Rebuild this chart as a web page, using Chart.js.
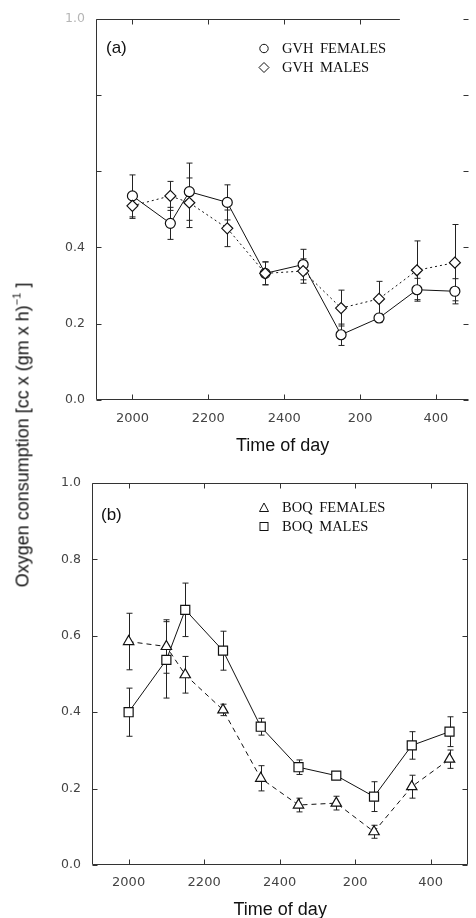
<!DOCTYPE html>
<html>
<head>
<meta charset="utf-8">
<script src="https://cdn.jsdelivr.net/npm/chart.js@4/dist/chart.umd.min.js"></script>
<style>
  html, body { margin: 0; padding: 0; background: #fff; }
  #wrap { position: relative; width: 476px; height: 918px; overflow: hidden; background: #fff; }
  canvas { position: absolute; left: 0; }
  .ytitle { position: absolute; left: 22px; top: 435px; transform: translate(-50%, -50%) rotate(-90deg);
            white-space: nowrap; font-family: "Liberation Sans", Arial, sans-serif; font-size: 18px; color: #111; }
  .ytitle sup { font-size: 11px; vertical-align: 8px; }
  .panel { position: absolute; font-family: "Liberation Sans", Arial, sans-serif; font-size: 17px; color: #111;
           transform: translateY(-50%); white-space: nowrap; }
  .leg { position: absolute; left: 258px; transform: translateY(-50%); white-space: nowrap;
         font-family: "Liberation Serif", "Times New Roman", serif; font-size: 14.5px; color: #111; word-spacing: 3px; }
  .leg svg { position: absolute; left: 0; top: 50%; transform: translateY(-50%); }
  .leg span { margin-left: 24px; }
</style>
</head>
<body>
<div id="wrap">
  <canvas id="chartA" width="476" height="460" style="top:0"></canvas>
  <canvas id="chartB" width="476" height="461" style="top:460px"></canvas>
  <div class="ytitle">Oxygen consumption [cc x (gm x h)<sup>&minus;1</sup> ]</div>
  <div class="panel" style="left:106px; top:48px">(a)</div>
  <div class="panel" style="left:101px; top:515px">(b)</div>
  <div class="leg" style="top:48px"><svg width="12" height="12"><circle cx="6" cy="6" r="4.2" fill="#fff" stroke="#111" stroke-width="1"/></svg><span>GVH FEMALES</span></div>
  <div class="leg" style="top:67px"><svg width="12" height="12"><polygon points="6,1 11,6 6,11 1,6" fill="#fff" stroke="#111" stroke-width="1"/></svg><span>GVH MALES</span></div>
  <div class="leg" style="top:507px"><svg width="12" height="12"><polygon points="6,1.5 10.5,10 1.5,10" fill="#fff" stroke="#111" stroke-width="1"/></svg><span>BOQ FEMALES</span></div>
  <div class="leg" style="top:526px"><svg width="12" height="12"><rect x="2" y="2" width="8" height="8" fill="#fff" stroke="#111" stroke-width="1"/></svg><span>BOQ MALES</span></div>
</div>
<script>
// ---- Data (hours on a continuous clock: 24 = midnight, 26 = 0200, ...) ----
const hours = [20, 21, 21.5, 22.5, 23.5, 24.5, 25.5, 26.5, 27.5, 28.5];

const gvhFemales    = [0.535, 0.463, 0.546, 0.518, 0.332, 0.355, 0.171, 0.215, 0.289, 0.285];
const gvhFemalesErr = [0.055, 0.042, 0.075, 0.046, 0.030, 0.040, 0.028, 0.012, 0.030, 0.033];
const gvhMales      = [0.509, 0.535, 0.517, 0.450, 0.332, 0.338, 0.241, 0.265, 0.340, 0.360];
const gvhMalesErr   = [0.033, 0.038, 0.065, 0.048, 0.030, 0.032, 0.047, 0.046, 0.077, 0.100];

const boqFemales    = [0.585, 0.572, 0.498, 0.406, 0.227, 0.157, 0.162, 0.087, 0.205, 0.277];
const boqFemalesErr = [0.074, 0.070, 0.048, 0.015, 0.033, 0.018, 0.018, 0.017, 0.030, 0.024];
const boqMales      = [0.400, 0.537, 0.668, 0.561, 0.362, 0.256, 0.234, 0.179, 0.313, 0.349];
const boqMalesErr   = [0.063, 0.100, 0.070, 0.051, 0.022, 0.019, 0.008, 0.039, 0.036, 0.039];

const xTickValues = [20, 22, 24, 26, 28];
const xTickLabels = ['2000', '2200', '2400', '200', '400'];
const yTickValues = [0, 0.2, 0.4, 0.6, 0.8, 1.0];
const yTickLabelsA = ['0.0', '0.2', '0.4', '', '', '1.0'];
const yTickLabelsB = ['0.0', '0.2', '0.4', '0.6', '0.8', '1.0'];

function pts(values) { return hours.map((h, i) => ({ x: h, y: values[i] })); }

const framePlugin = {
  id: 'frameErr',
  beforeDatasetsDraw(chart) {
    const ctx = chart.ctx, xs = chart.scales.x, ys = chart.scales.y;
    ctx.save();
    ctx.strokeStyle = '#222';
    ctx.lineWidth = 1;
    chart.data.datasets.forEach(ds => {
      if (!ds.errors) return;
      ds.data.forEach((p, i) => {
        const e = ds.errors[i];
        const px = Math.round(xs.getPixelForValue(p.x)) + 0.5;
        const y1 = ys.getPixelForValue(p.y + e), y2 = ys.getPixelForValue(p.y - e);
        ctx.beginPath();
        ctx.moveTo(px, y1); ctx.lineTo(px, y2);
        ctx.moveTo(px - 3, y1); ctx.lineTo(px + 3, y1);
        ctx.moveTo(px - 3, y2); ctx.lineTo(px + 3, y2);
        ctx.stroke();
      });
    });
    ctx.restore();
  },
  afterDraw(chart, args, opts) {
    const ctx = chart.ctx, a = chart.chartArea, xs = chart.scales.x, ys = chart.scales.y;
    ctx.save();
    ctx.strokeStyle = '#333';
    ctx.lineWidth = 1;
    const L = Math.round(a.left) + 0.5, R = Math.round(a.right) - 0.5;
    const T = Math.round(a.top) + 0.5, B = Math.round(a.bottom) - 0.5;
    ctx.beginPath();
    ctx.moveTo(L, T); ctx.lineTo(L, B); ctx.lineTo(R, B);
    if (opts.right) { ctx.moveTo(R, B); ctx.lineTo(R, T); }
    const topEnd = opts.topTo != null ? xs.getPixelForValue(opts.topTo) : R;
    ctx.moveTo(L, T); ctx.lineTo(topEnd, T);
    xTickValues.forEach(v => {
      const px = Math.round(xs.getPixelForValue(v)) + 0.5;
      ctx.moveTo(px, B); ctx.lineTo(px, B - 5);
      if (px < topEnd) { ctx.moveTo(px, T); ctx.lineTo(px, T + 5); }
    });
    yTickValues.forEach(v => {
      const py = Math.round(ys.getPixelForValue(v)) + 0.5;
      ctx.moveTo(L, py); ctx.lineTo(L + 5, py);
      ctx.moveTo(R, py); ctx.lineTo(R - 5, py);
    });
    ctx.stroke();
    ctx.restore();
  }
};

function makeOptions(cfg) {
  return {
    responsive: false,
    animation: false,
    devicePixelRatio: 1,
    layout: { padding: { top: cfg.top, right: 3, left: 0, bottom: 0 } },
    plugins: {
      legend: { display: false },
      tooltip: { enabled: false },
      frameErr: { right: cfg.right, topTo: cfg.topTo }
    },
    scales: {
      x: {
        type: 'linear', min: cfg.xMin, max: cfg.xMax,
        afterBuildTicks: s => { s.ticks = xTickValues.map(v => ({ value: v })); },
        afterFit: s => { s.height = cfg.xHeight; },
        grid: { display: false, drawTicks: false },
        border: { display: false },
        ticks: {
          padding: cfg.xPad,
          font: { family: 'DejaVu Sans', size: 13 },
          color: '#444',
          maxRotation: 0,
          callback: v => { const i = xTickValues.indexOf(v); return i >= 0 ? xTickLabels[i] : ''; }
        },
        title: {
          display: true, text: 'Time of day',
          font: { family: 'Liberation Sans', size: 18 },
          color: '#111',
          padding: { top: 0, bottom: cfg.titlePad }
        }
      },
      y: {
        min: 0, max: 1,
        afterBuildTicks: s => { s.ticks = yTickValues.map(v => ({ value: v })); },
        afterFit: s => { s.width = cfg.yWidth; },
        grid: { display: false, drawTicks: false },
        border: { display: false },
        ticks: {
          padding: 11,
          font: { family: 'DejaVu Sans', size: 12.5 },
          color: c => (cfg.fadeTop && c.tick && c.tick.value === 1) ? '#b5b5b5' : '#444',
          callback: v => { const i = yTickValues.findIndex(t => Math.abs(t - v) < 1e-9); return i >= 0 ? cfg.yLabels[i] : ''; }
        }
      }
    }
  };
}

function ds(label, values, errors, style, radius, dash) {
  return {
    label, data: pts(values), errors,
    borderColor: '#111', borderWidth: 1, borderDash: dash,
    pointStyle: style, pointRadius: radius, pointBorderWidth: 1.2,
    pointBackgroundColor: '#fff', pointBorderColor: '#111',
    backgroundColor: '#fff', fill: false, tension: 0, showLine: true
  };
}

new Chart(document.getElementById('chartA'), {
  type: 'scatter',
  data: {
    datasets: [
      ds('GVH MALES', gvhMales, gvhMalesErr, 'rectRot', 5.5, [2, 3]),
      ds('GVH FEMALES', gvhFemales, gvhFemalesErr, 'circle', 5, [])
    ]
  },
  options: makeOptions({ top: 18, xHeight: 60, xPad: 11, titlePad: 3, yWidth: 96, xMin: 19.04, xMax: 28.88,
                         yLabels: yTickLabelsA, fadeTop: true, right: false, topTo: 27.05 }),
  plugins: [framePlugin]
});

new Chart(document.getElementById('chartB'), {
  type: 'scatter',
  data: {
    datasets: [
      ds('BOQ FEMALES', boqFemales, boqFemalesErr, 'triangle', 6, [5, 4]),
      ds('BOQ MALES', boqMales, boqMalesErr, 'rect', 6.4, [])
    ]
  },
  options: makeOptions({ top: 23, xHeight: 56, xPad: 10, titlePad: 0, yWidth: 92, xMin: 19.03, xMax: 29,
                         yLabels: yTickLabelsB, fadeTop: false, right: true, topTo: null }),
  plugins: [framePlugin]
});
</script>
</body>
</html>
